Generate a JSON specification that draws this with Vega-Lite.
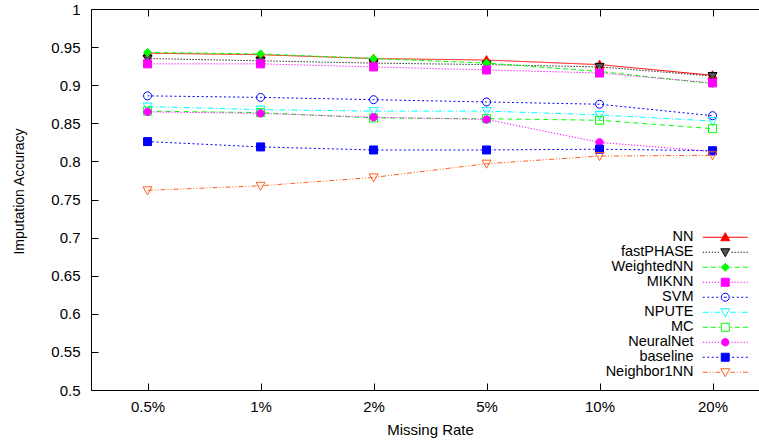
{
  "$schema": "https://vega.github.io/schema/vega-lite/v6.json",
  "width": 668,
  "height": 381,
  "autosize": "none",
  "padding": {"left": 91, "top": 9, "right": 0, "bottom": 54},
  "background": "white",
  "config": {
    "view": {"stroke": null},
    "font": "Liberation Sans",
    "axis": {
      "labelFont": "Liberation Sans",
      "labelFontSize": 15,
      "labelColor": "black",
      "titleFont": "Liberation Sans",
      "titleFontWeight": "normal",
      "titleColor": "black",
      "domainColor": "black",
      "domainWidth": 1,
      "tickColor": "black",
      "tickWidth": 1,
      "tickSize": -7,
      "grid": false
    }
  },
  "data": {
    "values": [
      {"rate": "0.5%", "method": "NN", "acc": 0.942},
      {"rate": "1%", "method": "NN", "acc": 0.940},
      {"rate": "2%", "method": "NN", "acc": 0.935},
      {"rate": "5%", "method": "NN", "acc": 0.933},
      {"rate": "10%", "method": "NN", "acc": 0.927},
      {"rate": "20%", "method": "NN", "acc": 0.913},
      {"rate": "0.5%", "method": "fastPHASE", "acc": 0.935},
      {"rate": "1%", "method": "fastPHASE", "acc": 0.932},
      {"rate": "2%", "method": "fastPHASE", "acc": 0.929},
      {"rate": "5%", "method": "fastPHASE", "acc": 0.927},
      {"rate": "10%", "method": "fastPHASE", "acc": 0.924},
      {"rate": "20%", "method": "fastPHASE", "acc": 0.912},
      {"rate": "0.5%", "method": "WeightedNN", "acc": 0.943},
      {"rate": "1%", "method": "WeightedNN", "acc": 0.941},
      {"rate": "2%", "method": "WeightedNN", "acc": 0.935},
      {"rate": "5%", "method": "WeightedNN", "acc": 0.929},
      {"rate": "10%", "method": "WeightedNN", "acc": 0.918},
      {"rate": "20%", "method": "WeightedNN", "acc": 0.902},
      {"rate": "0.5%", "method": "MIKNN", "acc": 0.928},
      {"rate": "1%", "method": "MIKNN", "acc": 0.928},
      {"rate": "2%", "method": "MIKNN", "acc": 0.924},
      {"rate": "5%", "method": "MIKNN", "acc": 0.920},
      {"rate": "10%", "method": "MIKNN", "acc": 0.916},
      {"rate": "20%", "method": "MIKNN", "acc": 0.903},
      {"rate": "0.5%", "method": "SVM", "acc": 0.886},
      {"rate": "1%", "method": "SVM", "acc": 0.884},
      {"rate": "2%", "method": "SVM", "acc": 0.881},
      {"rate": "5%", "method": "SVM", "acc": 0.878},
      {"rate": "10%", "method": "SVM", "acc": 0.875},
      {"rate": "20%", "method": "SVM", "acc": 0.860},
      {"rate": "0.5%", "method": "NPUTE", "acc": 0.872},
      {"rate": "1%", "method": "NPUTE", "acc": 0.868},
      {"rate": "2%", "method": "NPUTE", "acc": 0.866},
      {"rate": "5%", "method": "NPUTE", "acc": 0.866},
      {"rate": "10%", "method": "NPUTE", "acc": 0.861},
      {"rate": "20%", "method": "NPUTE", "acc": 0.853},
      {"rate": "0.5%", "method": "MC", "acc": 0.866},
      {"rate": "1%", "method": "MC", "acc": 0.864},
      {"rate": "2%", "method": "MC", "acc": 0.857},
      {"rate": "5%", "method": "MC", "acc": 0.856},
      {"rate": "10%", "method": "MC", "acc": 0.854},
      {"rate": "20%", "method": "MC", "acc": 0.843},
      {"rate": "0.5%", "method": "NeuralNet", "acc": 0.865},
      {"rate": "1%", "method": "NeuralNet", "acc": 0.863},
      {"rate": "2%", "method": "NeuralNet", "acc": 0.858},
      {"rate": "5%", "method": "NeuralNet", "acc": 0.855},
      {"rate": "10%", "method": "NeuralNet", "acc": 0.825},
      {"rate": "20%", "method": "NeuralNet", "acc": 0.813},
      {"rate": "0.5%", "method": "baseline", "acc": 0.826},
      {"rate": "1%", "method": "baseline", "acc": 0.819},
      {"rate": "2%", "method": "baseline", "acc": 0.815},
      {"rate": "5%", "method": "baseline", "acc": 0.815},
      {"rate": "10%", "method": "baseline", "acc": 0.816},
      {"rate": "20%", "method": "baseline", "acc": 0.814},
      {"rate": "0.5%", "method": "Neighbor1NN", "acc": 0.762},
      {"rate": "1%", "method": "Neighbor1NN", "acc": 0.768},
      {"rate": "2%", "method": "Neighbor1NN", "acc": 0.779},
      {"rate": "5%", "method": "Neighbor1NN", "acc": 0.797},
      {"rate": "10%", "method": "Neighbor1NN", "acc": 0.807},
      {"rate": "20%", "method": "Neighbor1NN", "acc": 0.808}
    ]
  },
  "layer": [
    {
      "mark": {"type": "line", "strokeWidth": 1},
      "encoding": {
        "x": {
          "field": "rate", "type": "ordinal",
          "sort": ["0.5%", "1%", "2%", "5%", "10%", "20%"],
          "scale": {"type": "point", "domain": ["0.5%", "1%", "2%", "5%", "10%", "20%"], "padding": 0.4558, "align": 0.549},
          "axis": {"title": "Missing Rate", "titleFontSize": 15, "labelAngle": 0, "labelPadding": 16.5, "titlePadding": 8, "titleX": 339, "orient": "bottom"}
        },
        "y": {
          "field": "acc", "type": "quantitative",
          "scale": {"domain": [0.5, 1], "nice": false, "zero": false},
          "axis": {"title": "Imputation Accuracy", "titleFontSize": 14, "values": [0.5, 0.55, 0.6, 0.65, 0.7, 0.75, 0.8, 0.85, 0.9, 0.95, 1], "format": ".2~f", "labelPadding": 18, "titlePadding": 24, "titleY": 182}
        },
        "stroke": {
          "field": "method", "type": "nominal", "legend": null,
          "scale": {"domain": ["NN", "fastPHASE", "WeightedNN", "MIKNN", "SVM", "NPUTE", "MC", "NeuralNet", "baseline", "Neighbor1NN"],
                    "range": ["#ff0000", "#000000", "#00ff00", "#ff00ff", "#0000ff", "#00ffff", "#00ff00", "#ff00ff", "#0000ff", "#ff5f1f"]}
        },
        "strokeDash": {
          "field": "method", "type": "nominal", "legend": null,
          "scale": {"domain": ["NN", "fastPHASE", "WeightedNN", "MIKNN", "SVM", "NPUTE", "MC", "NeuralNet", "baseline", "Neighbor1NN"],
                    "range": [[1, 0], [1.2, 1.8], [5, 3], [1.2, 1.8], [2, 2.5], [6, 2.5, 1, 2.5], [5, 4], [1.2, 1.8], [2, 2.5], [5, 2, 1, 2, 1, 2]]}
        }
      }
    },
    {
      "mark": {"type": "point", "filled": true, "size": 4, "strokeWidth": 1, "opacity": 1},
      "encoding": {
        "x": {"field": "rate", "type": "ordinal", "sort": ["0.5%", "1%", "2%", "5%", "10%", "20%"], "axis": null},
        "y": {"field": "acc", "type": "quantitative", "axis": null},
        "stroke": {
          "field": "method", "type": "nominal", "legend": null,
          "scale": {"domain": ["NN", "fastPHASE", "WeightedNN", "MIKNN", "SVM", "NPUTE", "MC", "NeuralNet", "baseline", "Neighbor1NN"],
                    "range": ["#ff0000", "#000000", "#00ff00", "#ff00ff", "#0000ff", "#00ffff", "#00ff00", "#ff00ff", "#0000ff", "#ff5f1f"]}
        },
        "fill": {
          "field": "method", "type": "nominal", "legend": null,
          "scale": {"domain": ["NN", "fastPHASE", "WeightedNN", "MIKNN", "SVM", "NPUTE", "MC", "NeuralNet", "baseline", "Neighbor1NN"],
                    "range": ["#ff0000", "#555555", "#00ff00", "#ff00ff", "transparent", "transparent", "transparent", "#ff00ff", "#0000ff", "transparent"]}
        },
        "shape": {
          "field": "method", "type": "nominal", "legend": null,
          "scale": {"domain": ["NN", "fastPHASE", "WeightedNN", "MIKNN", "SVM", "NPUTE", "MC", "NeuralNet", "baseline", "Neighbor1NN"],
                    "range": [
                      "M0,-4.5L4.5,3.5H-4.5Z",
                      "M0,4.5L4.5,-3.5H-4.5Z",
                      "M0,-4L4,0L0,4L-4,0Z",
                      "M-4,-4H4V4H-4Z",
                      "M4,0A4,4,0,1,1,-4,0A4,4,0,1,1,4,0Z",
                      "M0,4.5L4.5,-3.5H-4.5Z",
                      "M-4,-4H4V4H-4Z",
                      "M3.7,0A3.7,3.7,0,1,1,-3.7,0A3.7,3.7,0,1,1,3.7,0Z",
                      "M-4,-4H4V4H-4Z",
                      "M0,4.5L4.5,-3.5H-4.5Z"
                    ]}
        }
      }
    },
    {
      "transform": [{"filter": "false"}],
      "mark": {"type": "point", "filled": true, "size": 4, "strokeWidth": 1},
      "encoding": {
        "x": {"field": "rate", "type": "ordinal", "sort": ["0.5%", "1%", "2%", "5%", "10%", "20%"], "axis": {"orient": "top", "labels": false, "title": null}},
        "y": {"field": "acc", "type": "quantitative", "axis": null},
        "stroke": {
          "field": "method", "type": "nominal",
          "legend": {"orient": "none", "legendX": 627, "legendY": 221, "title": null, "labelAlign": "right", "labelOffset": -39, "labelFontSize": 14.5, "labelFont": "Liberation Sans", "labelColor": "black", "symbolSize": 4, "symbolStrokeWidth": 1, "symbolOpacity": 1, "rowPadding": 0, "padding": 0},
          "scale": {"domain": ["NN", "fastPHASE", "WeightedNN", "MIKNN", "SVM", "NPUTE", "MC", "NeuralNet", "baseline", "Neighbor1NN"],
                    "range": ["#ff0000", "#000000", "#00ff00", "#ff00ff", "#0000ff", "#00ffff", "#00ff00", "#ff00ff", "#0000ff", "#ff5f1f"]}
        },
        "fill": {
          "field": "method", "type": "nominal",
          "legend": {"orient": "none", "legendX": 627, "legendY": 221, "title": null, "labelAlign": "right", "labelOffset": -39, "labelFontSize": 14.5, "labelFont": "Liberation Sans", "labelColor": "black", "symbolSize": 4, "symbolStrokeWidth": 1, "symbolOpacity": 1, "rowPadding": 0, "padding": 0},
          "scale": {"domain": ["NN", "fastPHASE", "WeightedNN", "MIKNN", "SVM", "NPUTE", "MC", "NeuralNet", "baseline", "Neighbor1NN"],
                    "range": ["#ff0000", "#555555", "#00ff00", "#ff00ff", "transparent", "transparent", "transparent", "#ff00ff", "#0000ff", "transparent"]}
        },
        "shape": {
          "field": "method", "type": "nominal",
          "legend": {"orient": "none", "legendX": 627, "legendY": 221, "title": null, "labelAlign": "right", "labelOffset": -39, "labelFontSize": 14.5, "labelFont": "Liberation Sans", "labelColor": "black", "symbolSize": 4, "symbolStrokeWidth": 1, "symbolOpacity": 1, "rowPadding": 0, "padding": 0},
          "scale": {"domain": ["NN", "fastPHASE", "WeightedNN", "MIKNN", "SVM", "NPUTE", "MC", "NeuralNet", "baseline", "Neighbor1NN"],
                    "range": [
                      "M-22.5,0H22.5M0,-4.5L4.5,3.5H-4.5Z",
                      "M-22.5,0h1.2M-19.5,0h1.2M-16.5,0h1.2M-13.5,0h1.2M-10.5,0h1.2M-7.5,0h1.2M6.3,0h1.2M9.3,0h1.2M12.3,0h1.2M15.3,0h1.2M18.3,0h1.2M21.3,0h1.2M0,4.5L4.5,-3.5H-4.5Z",
                      "M-22.5,0h5M-14.5,0h5M-6.5,0h1.5M5,0h1.5M9.5,0h5M17.5,0h5M0,-4L4,0L0,4L-4,0Z",
                      "M-22.5,0h1.2M-19.5,0h1.2M-16.5,0h1.2M-13.5,0h1.2M-10.5,0h1.2M-7.5,0h1.2M6.3,0h1.2M9.3,0h1.2M12.3,0h1.2M15.3,0h1.2M18.3,0h1.2M21.3,0h1.2M-4,-4H4V4H-4Z",
                      "M-22.5,0h2M-18,0h2M-13.5,0h2M-9,0h2M-1.5,0h3M7,0h2M11.5,0h2M16,0h2M20.5,0h2M4,0A4,4,0,1,1,-4,0A4,4,0,1,1,4,0Z",
                      "M-22.5,0h6M-14,0h1M-10.5,0h5.5M5,0h5.5M13,0h1M16.5,0h6M0,4.5L4.5,-3.5H-4.5Z",
                      "M-22.5,0h5M-14.5,0h5M-6.5,0h1.5M5,0h1.5M9.5,0h5M17.5,0h5M-4,-4H4V4H-4Z",
                      "M-22.5,0h1.2M-19.5,0h1.2M-16.5,0h1.2M-13.5,0h1.2M-10.5,0h1.2M-7.5,0h1.2M6.3,0h1.2M9.3,0h1.2M12.3,0h1.2M15.3,0h1.2M18.3,0h1.2M21.3,0h1.2M3.7,0A3.7,3.7,0,1,1,-3.7,0A3.7,3.7,0,1,1,3.7,0Z",
                      "M-22.5,0h2M-18,0h2M-13.5,0h2M-9,0h2M7,0h2M11.5,0h2M16,0h2M20.5,0h2M-4,-4H4V4H-4Z",
                      "M-22.5,0h5M-15.5,0h1M-12.5,0h1M-9.5,0h4.5M5,0h4.5M11.5,0h1M14.5,0h1M17.5,0h5M0,4.5L4.5,-3.5H-4.5Z"
                    ]}
        }
      }
    }
  ],
  "resolve": {
    "scale": {"stroke": "independent", "fill": "independent", "shape": "independent", "strokeDash": "independent"},
    "axis": {"x": "independent", "y": "independent"}
  }
}
